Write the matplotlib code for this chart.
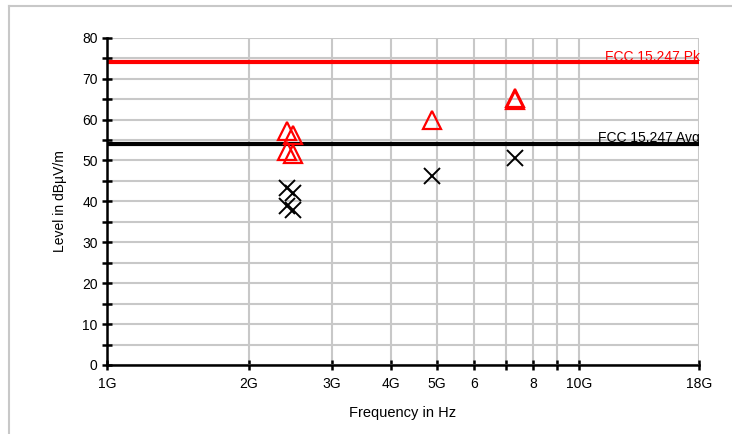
import matplotlib.pyplot as plt
from matplotlib.ticker import FixedLocator, FixedFormatter, NullFormatter
from matplotlib.lines import Line2D

plt.rcParams['font.family'] = ['Liberation Sans', 'DejaVu Sans']

# Data
peak_freq_ghz = [2.402, 2.480, 2.402, 2.480, 4.88, 7.32, 7.32]
peak_level = [57.3, 56.3, 52.3, 51.5, 60.0, 65.2, 64.8]
avg_freq_ghz = [2.402, 2.480, 2.402, 2.480, 4.88, 7.32]
avg_level = [43.3, 42.1, 38.9, 38.0, 46.2, 50.7]
limit_pk = 74
limit_avg = 54
x_ticks_ghz = [1, 2, 3, 4, 5, 6, 7, 8, 9, 10, 18]
x_tick_labels = ['1G', '2G', '3G', '4G', '5G', '6', '', '8', '', '10G', '18G']

fig = plt.figure(figsize=(7.32, 4.34), dpi=100)
ax = fig.add_axes([0.1462, 0.1590, 0.955 - 0.1462, 0.9131 - 0.1590])

# figure border (light gray)
fig.add_artist(Line2D([9/732, 9/732], [0, 1 - 6/434], color='#c8c8c8', lw=1.5, transform=fig.transFigure))
fig.add_artist(Line2D([9/732, 1], [1 - 6/434, 1 - 6/434], color='#c8c8c8', lw=1.5, transform=fig.transFigure))

ax.set_xscale('log')
ax.set_xlim(1, 18)
ax.set_ylim(0, 80)

ax.axhline(limit_pk, color='red', lw=3, zorder=3)
ax.axhline(limit_avg, color='black', lw=3, zorder=3)
ax.text(18.1, limit_pk + 0.4, 'FCC 15.247 Pk', color='red', ha='right', va='baseline', fontsize=10)
ax.text(18.1, limit_avg + 0.4, 'FCC 15.247 Avg', color='black', ha='right', va='baseline', fontsize=10)

ax.plot(peak_freq_ghz, peak_level, linestyle='none', marker='^', ms=13,
        mfc='none', mec='red', mew=1.6, zorder=4, clip_on=False)
ax.plot(avg_freq_ghz, avg_level, linestyle='none', marker='x', ms=12,
        color='black', mew=1.4, zorder=4, clip_on=False)

ax.xaxis.set_major_locator(FixedLocator(x_ticks_ghz))
ax.xaxis.set_major_formatter(FixedFormatter(x_tick_labels))
ax.xaxis.set_minor_locator(FixedLocator([]))
ax.xaxis.set_minor_formatter(NullFormatter())
ax.set_yticks(range(0, 81, 10))
ax.set_yticks(range(5, 80, 10), minor=True)

ax.grid(True, which='both', color='#c8c8c8', lw=1.5, zorder=0)
ax.set_axisbelow(True)
for s in ['top', 'right']:
    ax.spines[s].set_visible(False)
for s in ['left', 'bottom']:
    ax.spines[s].set_linewidth(1.8)
    ax.spines[s].set_zorder(5)

ax.tick_params(which='both', direction='inout', length=7.5, width=1.8, labelsize=10, colors='black')
ax.tick_params(axis='x', pad=5)
ax.tick_params(axis='y', pad=3)

ax.set_xlabel('Frequency in Hz', fontsize=10.5, labelpad=11)
ax.set_ylabel('Level in dBµV/m', fontsize=10, labelpad=11)

fig.savefig('out.png', dpi=100)
